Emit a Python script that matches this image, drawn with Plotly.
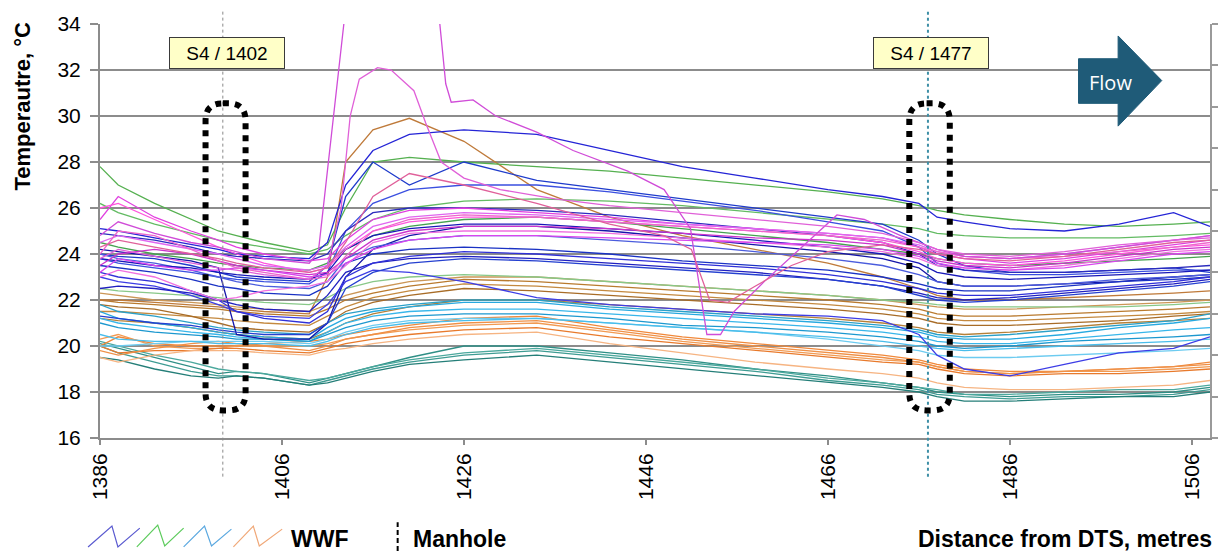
import plotly.graph_objects as go

# ---------------- data ----------------
distance = [1386, 1388, 1392, 1396, 1399, 1401, 1404, 1409, 1411, 1413, 1416, 1420, 1426,
            1434, 1442, 1450, 1458, 1466, 1472, 1476, 1478, 1481, 1486, 1492, 1498, 1504, 1508]

teal_series = [
    [20.1, 19.9, 19.5, 19.1, 18.8, 18.9, 18.8, 18.4, 18.6, 18.8, 19.1, 19.5, 20.0, 20.0, 19.7, 19.4, 19.0, 18.7, 18.4, 18.2, 18.0, 17.9, 17.8, 17.9, 17.9, 18.0, 18.2],
    [20.0, 19.7, 19.3, 18.9, 18.7, 18.7, 18.6, 18.3, 18.5, 18.7, 19.0, 19.3, 19.6, 19.8, 19.5, 19.2, 18.9, 18.5, 18.3, 18.1, 17.9, 17.8, 17.7, 17.8, 17.8, 17.9, 18.1],
    [19.5, 19.4, 19.0, 18.7, 18.6, 18.7, 18.6, 18.3, 18.4, 18.6, 18.9, 19.2, 19.4, 19.6, 19.3, 19.0, 18.7, 18.4, 18.2, 18.0, 17.8, 17.6, 17.6, 17.7, 17.8, 17.8, 18.0],
    [20.2, 20.0, 19.6, 19.3, 19.0, 18.9, 18.8, 18.5, 18.6, 18.8, 19.1, 19.4, 19.7, 19.9, 19.6, 19.3, 19.0, 18.6, 18.4, 18.2, 18.1, 17.9, 17.9, 18.0, 18.1, 18.1, 18.3],
]
orange_series = [
    [20.0, 20.4, 20.1, 20.0, 20.0, 20.0, 20.1, 20.2, 20.3, 20.5, 20.7, 20.9, 21.2, 21.3, 20.8, 20.4, 20.1, 19.8, 19.6, 19.4, 19.2, 19.0, 18.9, 18.9, 19.0, 19.1, 19.3],
    [20.3, 20.5, 20.0, 19.9, 19.9, 20.0, 20.0, 20.0, 20.1, 20.3, 20.5, 20.7, 20.9, 21.0, 20.6, 20.2, 19.9, 19.6, 19.4, 19.3, 19.1, 18.9, 18.8, 18.9, 18.9, 19.0, 19.1],
    [20.0, 19.7, 19.8, 19.8, 19.9, 19.9, 19.8, 19.7, 19.9, 20.1, 20.3, 20.5, 20.7, 20.8, 20.4, 20.1, 19.8, 19.5, 19.3, 19.2, 19.0, 18.8, 18.7, 18.8, 18.8, 18.9, 19.0],
    [19.5, 19.3, 19.6, 19.8, 19.8, 19.8, 19.7, 19.6, 19.8, 19.9, 20.1, 20.3, 20.5, 20.6, 20.1, 19.7, 19.3, 19.0, 18.8, 18.6, 18.4, 18.2, 18.1, 18.1, 18.2, 18.3, 18.5],
    [19.8, 19.6, 19.9, 20.1, 20.2, 20.1, 20.0, 19.8, 20.0, 20.3, 20.5, 20.8, 21.0, 21.1, 20.7, 20.3, 20.0, 19.7, 19.5, 19.3, 19.1, 18.9, 18.8, 18.9, 19.0, 19.1, 19.2],
]
brown_series = [
    [22.0, 21.9, 21.8, 21.7, 21.6, 21.5, 21.4, 21.3, 21.6, 22.0, 22.3, 22.6, 22.9, 22.8, 22.6, 22.4, 22.2, 22.0, 21.8, 21.6, 21.4, 21.3, 21.3, 21.4, 21.5, 21.6, 21.7],
    [21.5, 21.5, 21.4, 21.3, 21.2, 21.1, 21.0, 20.9, 21.3, 21.7, 22.1, 22.4, 22.7, 22.6, 22.4, 22.2, 22.0, 21.8, 21.6, 21.4, 21.2, 21.1, 21.1, 21.2, 21.3, 21.4, 21.5],
    [21.8, 21.7, 21.6, 21.3, 21.0, 20.8, 20.7, 20.6, 21.0, 21.5, 21.9, 22.2, 22.5, 22.4, 22.2, 22.0, 21.8, 21.6, 21.4, 21.2, 21.0, 20.9, 20.9, 21.0, 21.1, 21.3, 21.4],
    [22.3, 22.2, 22.0, 21.9, 21.8, 21.7, 21.6, 21.5, 21.8, 22.2, 22.5, 22.8, 23.0, 23.0, 22.8, 22.6, 22.4, 22.2, 22.0, 21.8, 21.7, 21.6, 21.6, 21.7, 21.8, 21.9, 22.0],
    [21.2, 21.1, 21.0, 20.8, 20.6, 20.5, 20.4, 20.3, 20.6, 21.0, 21.4, 21.7, 22.0, 22.0, 21.8, 21.6, 21.4, 21.2, 21.0, 20.8, 20.6, 20.5, 20.6, 20.8, 21.0, 21.1, 21.2],
    [22.0, 22.0, 21.9, 21.8, 21.7, 21.6, 21.5, 21.4, 23.0, 28.0, 29.4, 29.9, 28.9, 26.8, 25.6, 24.8, 24.2, 23.6, 23.0, 22.5, 22.2, 22.0, 22.0, 22.1, 22.2, 22.3, 22.4],
]
cyan_series = [
    [21.5, 21.2, 21.0, 20.8, 20.6, 20.5, 20.4, 20.3, 20.8, 21.2, 21.5, 21.7, 21.9, 21.9, 21.6, 21.4, 21.2, 21.0, 20.8, 20.6, 20.4, 20.3, 20.3, 20.5, 20.8, 21.0, 21.2],
    [21.2, 21.0, 20.8, 20.6, 20.5, 20.4, 20.3, 20.2, 20.6, 21.0, 21.3, 21.5, 21.6, 21.6, 21.4, 21.2, 21.0, 20.8, 20.6, 20.4, 20.2, 20.1, 20.1, 20.3, 20.5, 20.7, 20.8],
    [21.0, 20.8, 20.6, 20.5, 20.4, 20.3, 20.3, 20.2, 20.5, 20.8, 21.1, 21.3, 21.4, 21.4, 21.2, 20.9, 20.8, 20.6, 20.4, 20.2, 20.0, 19.9, 20.0, 20.2, 20.3, 20.4, 20.5],
    [20.0, 20.0, 20.1, 20.2, 20.2, 20.2, 20.2, 20.1, 20.3, 20.6, 20.9, 21.1, 21.2, 21.2, 21.0, 20.8, 20.6, 20.3, 20.0, 19.8, 19.6, 19.5, 19.5, 19.6, 19.7, 19.8, 19.9],
    [21.8, 21.5, 21.3, 21.0, 20.8, 20.7, 20.6, 20.5, 21.0, 21.4, 21.6, 21.8, 22.0, 22.0, 21.7, 21.5, 21.3, 21.1, 20.9, 20.7, 20.5, 20.4, 20.5, 20.7, 20.9, 21.1, 21.4],
    [20.5, 20.3, 20.2, 20.2, 20.1, 20.1, 20.1, 20.0, 20.2, 20.5, 20.8, 21.0, 21.1, 21.2, 21.0, 20.8, 20.6, 20.4, 20.2, 20.0, 19.9, 19.8, 19.9, 20.0, 20.1, 20.2, 20.3],
]
green_series = [
    [27.8, 27.0, 26.2, 25.5, 25.0, 24.8, 24.5, 24.1, 24.4, 26.0, 28.0, 28.2, 28.0, 27.8, 27.6, 27.3, 27.0, 26.7, 26.4, 26.1, 25.9, 25.7, 25.5, 25.3, 25.2, 25.3, 25.4],
    [26.2, 25.8, 25.3, 24.9, 24.6, 24.5, 24.3, 24.0, 24.2, 24.8, 25.5, 26.0, 26.3, 26.4, 26.3, 26.1, 25.8, 25.5, 25.3, 25.1, 24.9, 24.8, 24.7, 24.7, 24.7, 24.8, 24.9],
    [24.5, 24.3, 24.0, 23.8, 23.6, 23.5, 23.4, 23.3, 23.6, 24.2, 24.8, 25.2, 25.5, 25.6, 25.4, 25.1, 24.8, 24.5, 24.2, 24.0, 23.8, 23.6, 23.5, 23.6, 23.7, 23.8, 23.9],
    [22.5, 22.4, 22.3, 22.2, 22.1, 22.0, 21.9, 21.8, 22.1, 22.5, 22.8, 23.0, 23.1, 23.0, 22.8, 22.6, 22.4, 22.2, 22.0, 21.9, 21.8, 21.7, 21.7, 21.7, 21.7, 21.8, 21.9],
]
blue_series = [
    [25.1, 25.0, 24.7, 24.4, 24.2, 24.0, 23.9, 23.8, 24.5, 27.0, 28.5, 29.2, 29.4, 29.2, 28.5, 27.8, 27.3, 26.8, 26.5, 26.2, 25.6, 25.4, 25.1, 25.0, 25.3, 25.8, 25.2],
    [24.0, 23.9, 23.8, 23.5, 23.2, 23.0, 22.9, 22.8, 23.5, 26.5, 28.0, 27.0, 28.0, 27.2, 26.8, 26.4, 26.0, 25.6, 25.3, 24.6, 24.0, 23.5, 23.2, 23.2, 23.3, 23.4, 23.2],
    [23.8, 23.6, 23.4, 23.2, 23.0, 22.9, 22.8, 22.7, 23.2, 25.0, 26.2, 26.8, 27.0, 27.0, 26.7, 26.3, 25.9, 25.4, 25.0, 24.3, 23.6, 23.3, 23.1, 23.1, 23.2, 23.3, 23.3],
    [24.2, 24.1, 23.9, 23.7, 23.4, 20.5, 20.3, 20.3, 21.0, 23.0, 24.2, 24.8, 25.2, 25.2, 25.0, 24.7, 24.4, 24.1, 23.8, 23.4, 22.8, 22.6, 22.6, 22.7, 22.8, 23.0, 23.1],
    [23.0, 22.8, 22.6, 22.2, 21.8, 21.5, 21.3, 21.2, 21.8, 22.8, 23.3, 23.2, 22.8, 22.1, 21.8, 21.6, 21.4, 21.3, 21.1, 20.5, 19.6, 19.0, 18.7, 19.2, 19.7, 19.9, 20.4],
    [24.9, 24.8, 24.6, 24.3, 24.0, 23.9, 23.8, 23.7, 24.0, 25.0, 25.8, 26.0, 26.0, 25.9, 25.7, 25.4, 25.1, 24.8, 24.5, 24.0, 23.5, 23.3, 23.2, 23.2, 23.3, 23.4, 23.5],
    [24.0, 23.8, 23.6, 23.3, 23.0, 22.8, 22.6, 22.5, 22.8, 23.8, 24.3, 24.6, 24.8, 24.8, 24.6, 24.4, 24.1, 23.8, 23.5, 23.1, 22.8, 22.6, 22.6, 22.7, 22.9, 23.0, 23.1],
    [23.5, 23.4, 23.2, 22.9, 22.6, 22.5, 22.3, 22.2, 22.6, 23.6, 24.0, 24.2, 24.3, 24.2, 24.0, 23.7, 23.5, 23.3, 23.0, 22.7, 22.5, 22.4, 22.4, 22.6, 22.8, 22.9, 23.0],
    [22.5, 22.6, 22.5, 22.3, 22.0, 21.8, 21.6, 21.5, 22.2, 23.2, 23.6, 23.8, 23.9, 23.8, 23.6, 23.4, 23.2, 22.9, 22.6, 22.3, 22.1, 22.0, 22.1, 22.3, 22.5, 22.7, 22.9],
    [23.2, 23.0, 22.8, 22.4, 22.0, 21.5, 21.2, 21.0, 21.5, 23.0, 23.6, 23.9, 24.1, 24.0, 23.8, 23.6, 23.4, 23.1, 22.8, 22.5, 22.3, 22.2, 22.2, 22.4, 22.6, 22.8, 23.0],
    [21.3, 21.2, 21.0, 20.9, 20.7, 20.6, 20.5, 20.5, 21.0, 22.5, 23.2, 23.6, 23.8, 23.7, 23.5, 23.3, 23.1, 22.9, 22.6, 22.2, 22.0, 21.9, 22.0, 22.2, 22.4, 22.6, 22.8],
    [23.8, 23.7, 23.5, 23.4, 23.2, 23.1, 23.0, 22.9, 23.2, 24.2, 24.8, 25.1, 25.3, 25.3, 25.1, 24.9, 24.6, 24.3, 24.0, 23.6, 23.2, 23.0, 22.9, 23.0, 23.1, 23.2, 23.3],
]
magenta_series = [
    [25.5, 26.5, 25.6, 25.0, 24.6, 24.3, 24.0, 23.7, 23.8, 24.6, 25.5, 25.9, 26.0, 25.8, 25.6, 25.3, 25.1, 24.9, 24.7, 24.3, 24.0, 23.8, 23.6, 23.8, 24.1, 24.4, 24.6],
    [26.0, 26.2, 25.5, 24.8, 24.3, 24.0, 23.6, 23.2, 23.4, 24.2, 25.0, 25.4, 25.6, 25.6, 25.4, 25.2, 25.0, 24.8, 24.5, 24.1, 23.8, 23.6, 23.5, 23.7, 24.0, 24.3, 24.4],
    [23.5, 24.0, 24.2, 24.0, 23.7, 23.5, 23.3, 23.1, 23.2, 23.8, 24.6, 25.0, 25.2, 25.2, 25.1, 24.9, 24.7, 24.6, 24.4, 24.0, 23.7, 23.5, 23.4, 23.6, 23.9, 24.2, 24.3],
    [24.5, 24.8, 24.5, 24.2, 24.0, 23.8, 23.5, 23.3, 23.5, 24.3, 25.2, 25.6, 25.8, 25.7, 25.5, 25.3, 25.1, 24.9, 24.7, 24.4, 24.1, 23.9, 23.8, 24.0, 24.3, 24.6, 24.8],
    [23.0, 23.3, 23.0, 22.4, 22.0, 22.1, 22.4, 22.6, 22.8, 23.5, 24.5, 24.9, 25.0, 25.0, 24.9, 24.7, 24.5, 24.3, 24.1, 23.8, 23.5, 23.4, 23.3, 23.5, 23.8, 24.1, 24.2],
    [23.2, 23.8, 23.5, 23.3, 23.3, 23.4, 23.3, 23.0, 23.1, 23.6, 24.2, 24.6, 24.8, 24.8, 24.7, 24.6, 24.5, 24.4, 24.2, 23.9, 23.6, 23.4, 23.3, 23.4, 23.7, 24.0, 24.1],
    [24.0, 25.0, 24.8, 24.2, 23.7, 23.4, 23.2, 22.9, 23.0, 23.9, 25.0, 25.5, 25.7, 25.6, 25.4, 25.2, 25.0, 24.8, 24.6, 24.3, 24.1, 23.9, 23.8, 23.9, 24.1, 24.3, 24.5],
]

# magenta traces with off-scale excursions (own distance sampling)
spike_a_distance = [1386, 1388, 1392, 1396, 1399, 1401, 1404, 1409, 1410, 1412.8, 1413.4, 1422.6, 1424.0,
                    1424.6, 1427, 1429.5, 1434, 1438, 1444, 1448, 1450.9, 1452.7, 1454.2, 1455.7, 1459,
                    1467, 1470, 1474, 1478, 1481, 1486, 1492, 1498, 1504, 1508]
spike_a_temp = [24.8, 25.4, 24.9, 24.5, 24.3, 24.1, 23.8, 23.6, 24.1, 34.0, 37.0, 37.0, 31.4,
                30.6, 30.7, 30.0, 29.3, 28.5, 27.6, 26.8, 25.1, 20.5, 20.5, 21.5, 22.8,
                25.7, 25.5, 24.8, 24.2, 23.9, 23.8, 24.0, 24.3, 24.6, 24.8]
spike_b_distance = [1386, 1388, 1392, 1396, 1399, 1401, 1404, 1409, 1411, 1412.5, 1413.5, 1414.5, 1416.5,
                    1418, 1420.5, 1421.8, 1423.5, 1426, 1430, 1436, 1442, 1450, 1458, 1466, 1472,
                    1476, 1478, 1481, 1486, 1492, 1498, 1504, 1508]
spike_b_temp = [23.8, 24.2, 23.9, 23.6, 23.4, 23.3, 23.1, 22.9, 23.5, 26.0, 30.0, 31.6, 32.1,
                32.0, 31.1, 29.7, 28.0, 27.3, 26.8, 26.4, 26.1, 25.8, 25.5, 25.2, 24.9,
                24.5, 24.2, 24.0, 23.9, 24.1, 24.4, 24.6, 24.7]
dip_distance = [1386, 1388, 1392, 1396, 1399, 1401, 1404, 1409, 1411, 1413, 1416, 1420, 1426, 1434, 1442,
                1448, 1451, 1453, 1455, 1458, 1462, 1466, 1472, 1476, 1478, 1481, 1486, 1492, 1498, 1504, 1508]
dip_temp = [24.3, 24.6, 24.3, 24.0, 23.8, 23.6, 23.4, 23.2, 23.4, 24.5, 26.5, 27.5, 27.0, 26.2, 25.3,
            24.8, 24.2, 22.0, 21.9, 22.6, 23.5, 24.1, 24.4, 24.2, 24.0, 23.8, 23.7, 23.9, 24.2, 24.5, 24.6]

x_ticks = [1386, 1406, 1426, 1446, 1466, 1486, 1506]
manholes = [1399.5, 1477]
manhole_labels = ["S4 / 1402", "S4 / 1477"]

# ---------------- styling ----------------
teal_colors = ["#2F8F86", "#3E9C93", "#247E78", "#4BA89D"]
orange_colors = ["#F0883A", "#F29A52", "#E87A2C", "#F6B482", "#EF9047"]
brown_colors = ["#B97A2E", "#C4893F", "#A86C27", "#CB9656", "#B58039", "#BF7A3A"]
cyan_colors = ["#26A9E0", "#38B6EA", "#1C98CF", "#6CCBF0", "#2AA0C8", "#49BDEB"]
green_colors = ["#55B050", "#63BB63", "#45A24F", "#88C888"]
blue_colors = ["#2424D6", "#1E3BCB", "#3A4FE0", "#1414A8", "#3D3DE6", "#2B2BBE",
               "#4A5CDD", "#1A32C4", "#2020C0", "#3030D8", "#2540D0", "#1818B8"]
magenta_colors = ["#E040E0", "#FF55DD", "#CC33CC", "#E066F0", "#F070E0", "#D946EF", "#EE66CC"]

XMIN, XMAX = 1386, 1508
YMIN, YMAX = 16, 34
W, H = 1228, 555
ML, MR, MT, MB = 100, 13, 20, 117
PW, PH = W - ML - MR, H - MT - MB
GRID = "#8C8C8C"
FONT = "Liberation Sans, Arial, sans-serif"


def px(xp):
    return (xp - ML) / PW


def py(yp):
    return (H - MB - yp) / PH


fig = go.Figure()


def add_family(series, colors):
    for i, s in enumerate(series):
        fig.add_trace(go.Scatter(x=distance, y=s, mode="lines",
                                 line=dict(color=colors[i % len(colors)], width=1.3),
                                 showlegend=False, hoverinfo="skip"))


add_family(teal_series, teal_colors)
add_family(orange_series, orange_colors)
add_family(brown_series, brown_colors)
add_family(cyan_series, cyan_colors)
add_family(green_series, green_colors)
add_family(blue_series, blue_colors)
add_family(magenta_series, magenta_colors)

for xs, ys, c in [(spike_a_distance, spike_a_temp, "#D04CD8"),
                  (spike_b_distance, spike_b_temp, "#E060D8"),
                  (dip_distance, dip_temp, "#E0609A")]:
    fig.add_trace(go.Scatter(x=xs, y=ys, mode="lines", line=dict(color=c, width=1.3),
                             showlegend=False, hoverinfo="skip"))

# dummy trace for the secondary (right) axis ticks
fig.add_trace(go.Scatter(x=[], y=[], yaxis="y2", showlegend=False))

shapes = []
# manhole lines
for m, col, wd in zip(manholes, ["#8A8A8A", "#3E8FA6"], [1, 2]):
    xpp = (m - XMIN) / (XMAX - XMIN)
    shapes.append(dict(type="line", xref="paper", yref="paper", x0=xpp, x1=xpp,
                       y0=py(477), y1=py(5), line=dict(color=col, width=wd, dash="dot")))


def rounded_box(x0, x1, y0, y1, rx, ry):
    return (f"M {x0+rx},{y1} L {x1-rx},{y1} Q {x1},{y1} {x1},{y1-ry} "
            f"L {x1},{y0+ry} Q {x1},{y0} {x1-rx},{y0} L {x0+rx},{y0} "
            f"Q {x0},{y0} {x0},{y0+ry} L {x0},{y1-ry} Q {x0},{y1} {x0+rx},{y1} Z")


for (bx0, bx1) in [(1397.6, 1402.0), (1474.95, 1479.4)]:
    shapes.append(dict(type="path", xref="x", yref="y",
                       path=rounded_box(bx0, bx1, 17.2, 30.55, 1.9, 0.75),
                       line=dict(color="black", width=6, dash="6px,6px")))

# flow arrow
arrow_path = ("M 1493.55,32.49 L 1497.9,32.49 L 1497.9,33.48 L 1502.7,31.54 "
              "L 1497.9,29.56 L 1497.9,30.55 L 1493.55,30.55 Z")
shapes.append(dict(type="path", xref="x", yref="y", path=arrow_path,
                   fillcolor="#1F5B78", line=dict(color="#1F5B78", width=1)))

# legend zig-zags
zig_specs = [
    ("#5A5AD0", [(88, 548), (112, 527), (118, 548), (140, 529)]),
    ("#5CCB5C", [(137, 548), (158, 526), (165, 547), (184, 529)]),
    ("#5AA8E0", [(184, 548), (205, 527), (212, 547), (232, 530)]),
    ("#F0A878", [(234, 548), (254, 527), (260, 547), (283, 530)]),
]
for col, pts in zig_specs:
    p = "M " + " L ".join(f"{px(a)},{py(b)}" for a, b in pts)
    shapes.append(dict(type="path", xref="paper", yref="paper", path=p,
                       line=dict(color=col, width=1.2)))

# manhole legend symbol
shapes.append(dict(type="line", xref="paper", yref="paper", x0=px(399), x1=px(399),
                   y0=py(552), y1=py(523), line=dict(color="black", width=2, dash="5px,3px")))

annotations = []
for m, lab, cx in zip(manholes, manhole_labels, [1399.95, 1477.35]):
    annotations.append(dict(x=cx, y=32.75, xref="x", yref="y", text=lab, showarrow=False,
                            xanchor="center", yanchor="middle",
                            font=dict(family=FONT, size=19, color="black"),
                            bgcolor="#FFFFC8", bordercolor="#3A3A3A", borderwidth=1,
                            width=112, height=28))
annotations.append(dict(x=1497.05, y=31.46, xref="x", yref="y", text="Flow", showarrow=False,
                        xanchor="center", yanchor="middle",
                        font=dict(family="Open Sans, sans-serif", size=20, color="white")))
annotations.append(dict(x=px(22), y=py(103), xref="paper", yref="paper",
                        xanchor="center", yanchor="middle",
                        text="<b>Temperautre, °C</b>", textangle=-90, showarrow=False,
                        font=dict(family=FONT, size=22, color="black")))
annotations.append(dict(x=px(290), y=py(540), xref="paper", yref="paper",
                        xanchor="left", yanchor="middle",
                        text="<b>WWF</b>", showarrow=False,
                        font=dict(family=FONT, size=23, color="black")))
annotations.append(dict(x=px(412), y=py(540), xref="paper", yref="paper",
                        xanchor="left", yanchor="middle",
                        text="<b>Manhole</b>", showarrow=False,
                        font=dict(family=FONT, size=23, color="black")))
annotations.append(dict(x=px(1219), y=py(540), xref="paper", yref="paper",
                        xanchor="right", yanchor="middle",
                        text="<b>Distance from DTS, metres</b>", showarrow=False,
                        font=dict(family=FONT, size=23, color="black")))

fig.update_layout(
    width=W, height=H,
    margin=dict(l=ML, r=MR, t=MT, b=MB, pad=0),
    paper_bgcolor="white", plot_bgcolor="white",
    showlegend=False,
    xaxis=dict(range=[XMIN, XMAX], tickvals=x_ticks, ticktext=[str(v) for v in x_ticks],
               tickangle=-90, ticks="outside", ticklen=5, tickwidth=2, tickcolor=GRID,
               showline=True, linecolor=GRID, linewidth=2, showgrid=False, zeroline=False,
               tickfont=dict(family=FONT, size=21, color="black")),
    yaxis=dict(range=[YMIN, YMAX], dtick=2, tick0=16, ticks="outside", ticklen=8,
               tickwidth=2, tickcolor=GRID, showline=True, linecolor=GRID, linewidth=2,
               showgrid=True, gridcolor=GRID, gridwidth=2, zeroline=False,
               ticklabelstandoff=5,
               tickfont=dict(family=FONT, size=21, color="black")),
    yaxis2=dict(range=[0, 10], dtick=1, overlaying="y", side="right", ticks="outside",
                ticklen=6, tickwidth=2, tickcolor="#9A9A9A", showline=True,
                linecolor="#9A9A9A", linewidth=2, showgrid=False, zeroline=False,
                showticklabels=False),
    shapes=shapes,
    annotations=annotations,
)

fig.write_html("out.html")
